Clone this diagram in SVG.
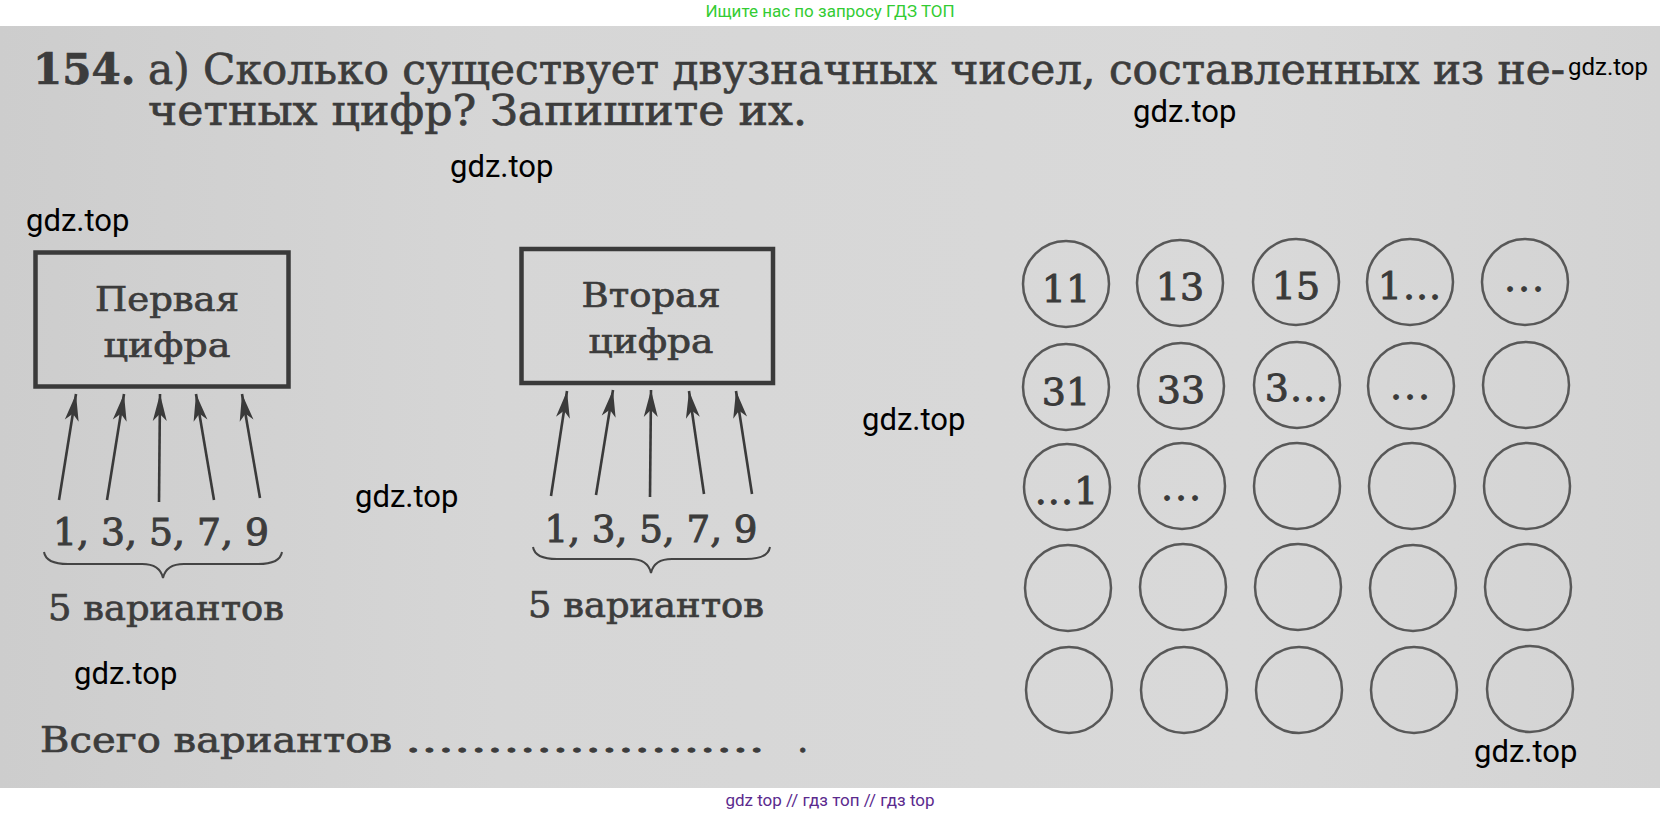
<svg xmlns="http://www.w3.org/2000/svg" width="1660" height="815" viewBox="0 0 1660 815">
<defs>
<linearGradient id="bg" x1="0" y1="0" x2="1" y2="0">
<stop offset="0" stop-color="#cdcdcd"/>
<stop offset="0.3" stop-color="#d6d6d6"/>
<stop offset="0.75" stop-color="#d9d9d9"/>
<stop offset="1" stop-color="#d3d3d3"/>
</linearGradient>
<marker id="ah" viewBox="-28 -8 30 16" refX="0" refY="0" markerWidth="30" markerHeight="16" markerUnits="userSpaceOnUse" orient="auto">
<path d="M0,0 L-27,-7 L-20,0 L-27,7 Z" fill="#3a3a3a"/>
</marker>
<style>
.t{font-family:"DejaVu Serif","Liberation Serif",serif;fill:#3c3c3c;stroke:#3c3c3c;stroke-width:0.7}
.wm{font-family:Roboto,"Liberation Sans",sans-serif;fill:#000;font-size:31px}
.box{fill:none;stroke:#3a3a3a;stroke-width:4.5}
.arr{stroke:#3a3a3a;stroke-width:2.6;fill:none;marker-end:url(#ah)}
.br{fill:none;stroke:#444;stroke-width:2}
.c{fill:none;stroke:#585858;stroke-width:2.5}
.n{font-family:"DejaVu Serif","Liberation Serif",serif;fill:#3a3a3a;stroke:#3a3a3a;stroke-width:0.9;font-size:38px;text-anchor:middle}
</style>
</defs>
<rect x="0" y="0" width="1660" height="815" fill="#fff"/>
<rect x="0" y="26" width="1660" height="762" fill="url(#bg)"/>
<text x="830" y="17" font-family="Roboto,'Liberation Sans',sans-serif" font-size="17" fill="#33cc33" text-anchor="middle">Ищите нас по запросу ГДЗ ТОП</text>
<text x="830" y="806" font-family="Roboto,'Liberation Sans',sans-serif" font-size="17" fill="#5b2a8e" text-anchor="middle">gdz top // гдз топ // гдз top</text>

<g id="title">
<text class="t" font-size="42"><tspan x="33" y="84" font-weight="bold">154.</tspan><tspan x="148" y="84" textLength="1417" lengthAdjust="spacingAndGlyphs">а) Сколько существует двузначных чисел, составленных из не-</tspan><tspan x="148" y="125" textLength="659" lengthAdjust="spacingAndGlyphs">четных цифр? Запишите их.</tspan></text>
</g>

<g id="box1">
<rect class="box" x="35.5" y="252.5" width="253" height="134"/>
<text class="t" x="167" y="311" font-size="33" text-anchor="middle" textLength="144" lengthAdjust="spacingAndGlyphs">Первая</text>
<text class="t" x="167" y="357" font-size="33" text-anchor="middle" textLength="127" lengthAdjust="spacingAndGlyphs">цифра</text>
</g>
<g id="box2">
<rect class="box" x="521.5" y="249" width="251.5" height="134"/>
<text class="t" x="651" y="307" font-size="33" text-anchor="middle" textLength="139" lengthAdjust="spacingAndGlyphs">Вторая</text>
<text class="t" x="651" y="353" font-size="33" text-anchor="middle" textLength="125" lengthAdjust="spacingAndGlyphs">цифра</text>
</g>

<g id="digits1">
<text class="t" x="161" y="545" font-size="38" text-anchor="middle" textLength="216" lengthAdjust="spacingAndGlyphs" style="stroke-width:1">1, 3, 5, 7, 9</text>
<path class="br" d="M44,552 Q46,564 68,564 L142,564 Q160,564 163,578 Q166,564 184,564 L258,564 Q280,564 282,552"/>
<text class="t" x="166" y="620" font-size="36" text-anchor="middle" textLength="236" lengthAdjust="spacingAndGlyphs">5 вариантов</text>
</g>
<g id="digits2">
<text class="t" x="651" y="542" font-size="38" text-anchor="middle" textLength="213" lengthAdjust="spacingAndGlyphs" style="stroke-width:1">1, 3, 5, 7, 9</text>
<path class="br" d="M533,547 Q535,559 557,559 L630,559 Q648,559 651,573 Q654,559 672,559 L746,559 Q768,559 770,547"/>
<text class="t" x="646" y="617" font-size="36" text-anchor="middle" textLength="236" lengthAdjust="spacingAndGlyphs">5 вариантов</text>
</g>

<g id="connectors">
<line class="arr" x1="59" y1="500" x2="76" y2="394"/>
<line class="arr" x1="107" y1="500" x2="124" y2="394"/>
<line class="arr" x1="159" y1="502" x2="160" y2="394"/>
<line class="arr" x1="214" y1="500" x2="196" y2="394"/>
<line class="arr" x1="260" y1="498" x2="242" y2="394"/>
<line class="arr" x1="551" y1="496" x2="567" y2="391"/>
<line class="arr" x1="596" y1="495" x2="613" y2="390"/>
<line class="arr" x1="650" y1="497" x2="651" y2="390"/>
<line class="arr" x1="704" y1="494" x2="689" y2="391"/>
<line class="arr" x1="752" y1="494" x2="736" y2="391"/>
</g>

<g id="grid">
<g id="r1">
<circle class="c" cx="1066" cy="284" r="43"/>
<circle class="c" cx="1180" cy="283" r="43"/>
<circle class="c" cx="1296" cy="282" r="43"/>
<circle class="c" cx="1410" cy="282" r="43"/>
<circle class="c" cx="1525" cy="282" r="43"/>
<text class="n" x="1066" y="302">11</text>
<text class="n" x="1180" y="300">13</text>
<text class="n" x="1296" y="299">15</text>
<text class="n" x="1410" y="299" letter-spacing="1">1...</text>
<text class="n" x="1525" y="291" letter-spacing="2">...</text>
</g>
<g id="r2">
<circle class="c" cx="1066" cy="387" r="43"/>
<circle class="c" cx="1181" cy="386" r="43"/>
<circle class="c" cx="1297" cy="385" r="43"/>
<circle class="c" cx="1411" cy="386" r="43"/>
<circle class="c" cx="1526" cy="385" r="43"/>
<text class="n" x="1066" y="405">31</text>
<text class="n" x="1181" y="403">33</text>
<text class="n" x="1297" y="401" letter-spacing="1">3...</text>
<text class="n" x="1411" y="399" letter-spacing="2">...</text>
</g>
<g id="r3">
<circle class="c" cx="1067" cy="487" r="43"/>
<circle class="c" cx="1182" cy="486" r="43"/>
<circle class="c" cx="1297" cy="486" r="43"/>
<circle class="c" cx="1412" cy="486" r="43"/>
<circle class="c" cx="1527" cy="486" r="43"/>
<text class="n" x="1067" y="504" letter-spacing="1">...1</text>
<text class="n" x="1182" y="500" letter-spacing="2">...</text>
</g>
<g id="r4">
<circle class="c" cx="1068" cy="588" r="43"/>
<circle class="c" cx="1183" cy="587" r="43"/>
<circle class="c" cx="1298" cy="587" r="43"/>
<circle class="c" cx="1413" cy="588" r="43"/>
<circle class="c" cx="1528" cy="587" r="43"/>
</g>
<g id="r5">
<circle class="c" cx="1069" cy="690" r="43"/>
<circle class="c" cx="1184" cy="690" r="43"/>
<circle class="c" cx="1299" cy="690" r="43"/>
<circle class="c" cx="1414" cy="690" r="43"/>
<circle class="c" cx="1530" cy="689" r="43"/>
</g>
</g>

<g id="total">
<text class="t" x="40" y="752" font-size="36" textLength="352" lengthAdjust="spacingAndGlyphs">Всего вариантов</text>
<text class="t" x="405" y="752" font-size="36" textLength="360" lengthAdjust="spacingAndGlyphs">......................</text>
<text class="t" x="797" y="752" font-size="36">.</text>
</g>

<g id="watermarks">
<text class="wm" x="1568" y="75" style="font-size:24px">gdz.top</text>
<text class="wm" x="1133" y="122">gdz.top</text>
<text class="wm" x="450" y="177">gdz.top</text>
<text class="wm" x="26" y="231">gdz.top</text>
<text class="wm" x="862" y="430">gdz.top</text>
<text class="wm" x="355" y="507">gdz.top</text>
<text class="wm" x="74" y="684">gdz.top</text>
<text class="wm" x="1474" y="762">gdz.top</text>
</g>
</svg>
